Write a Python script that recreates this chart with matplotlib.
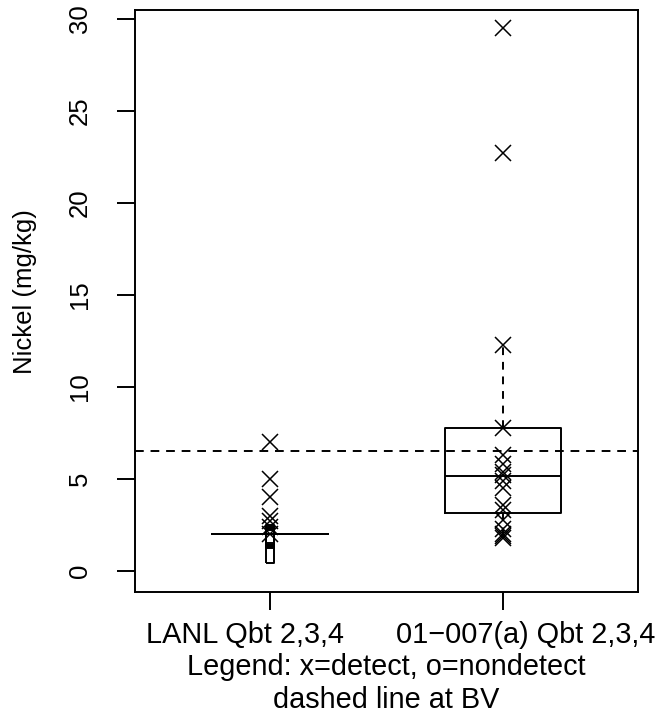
import numpy as np
import matplotlib
matplotlib.use("Agg")
import matplotlib.pyplot as plt
from matplotlib.transforms import blended_transform_factory

plt.rcParams['font.family'] = ['Liberation Sans', 'DejaVu Sans']

# data
groups = ["LANL Qbt 2,3,4", "01\u2212007(a) Qbt 2,3,4"]
lanl_detect = [7.0, 5.0, 4.0, 3.0, 2.7, 2.4, 2.0]
lanl_nondetect = [0.9, 1.75, 1.8, 1.85, 1.9, 2.0]
site_detect = [29.5, 22.7, 12.3, 7.8, 6.3, 5.8, 5.4, 5.2, 4.9, 4.5,
               3.6, 3.3, 2.8, 2.3, 2.0, 1.9, 1.8]
site_nondetect = []
# box stats (q1, median, q3, whisker low, whisker high)
box_q1 = [2.0, 3.15]
box_med = [2.0, 5.16]
box_q3 = [2.0, 7.77]
box_wlo = [2.0, 1.8]
box_whi = [2.0, 12.3]
bv = 6.55
yticks = [0, 5, 10, 15, 20, 25, 30]

W, H = 660, 716
fig = plt.figure(figsize=(W / 100, H / 100), dpi=100)
ax = fig.add_axes([135 / W, 1 - 592 / H, (638 - 135) / W, (592 - 10) / H])

lw = 1.4
stats = []
for i in range(2):
    stats.append(dict(med=box_med[i], q1=box_q1[i], q3=box_q3[i],
                      whislo=box_wlo[i], whishi=box_whi[i], fliers=[]))
ax.bxp(stats, positions=[1, 2], widths=0.5, showcaps=False, showfliers=False,
       boxprops=dict(color='black', linewidth=lw),
       medianprops=dict(color='black', linewidth=lw),
       whiskerprops=dict(color='black', linewidth=lw, linestyle=(0, (4, 3.5))))

# detects as x, nondetects as tall open marker
rect = [(-0.25, -0.5), (0.25, -0.5), (0.25, 0.5), (-0.25, 0.5), (-0.25, -0.5)]
for pos, det, nd in [(1, lanl_detect, lanl_nondetect), (2, site_detect, site_nondetect)]:
    ax.plot([pos] * len(det), det, linestyle='none', marker='x', markersize=11.5,
            markeredgewidth=1.1, color='black')
    if nd:
        ax.plot([pos] * len(nd), nd, linestyle='none', marker=rect, markersize=12.5,
                markeredgewidth=1.4, markerfacecolor='none', markeredgecolor='black')

ax.axhline(bv, color='black', linewidth=lw, linestyle=(0, (4.5, 3.5)))

ax.set_xlim(0.42, 2.58)
ax.set_ylim(-1.14, 30.49)
for s in ax.spines.values():
    s.set_linewidth(lw)

ax.set_yticks(yticks, [str(t) for t in yticks], rotation=90, va='center', fontsize=18.5)
ax.set_xticks([1, 2], ["", ""])
ax.tick_params(axis='both', direction='out', length=13, width=lw)
ax.tick_params(axis='y', pad=18)

# group labels sit a bit wider apart than the ticks in the original
tr = blended_transform_factory(ax.transData, fig.transFigure)
label_x = [0.893, 2.099]
for x, g in zip(label_x, groups):
    ax.text(x, 1 - 643 / H, g, transform=tr, ha='center', va='baseline', fontsize=20.8)

fig.text(25 / W, 1 - 292 / H, "Nickel (mg/kg)", rotation=90, ha='center', va='center',
         fontsize=18.5)
fig.text(386 / W, 1 - 675 / H, "Legend: x=detect, o=nondetect", ha='center',
         va='baseline', fontsize=20.8)
fig.text(386 / W, 1 - 708 / H, "dashed line at BV", ha='center', va='baseline',
         fontsize=20.8)

fig.savefig("out.png", dpi=100)
